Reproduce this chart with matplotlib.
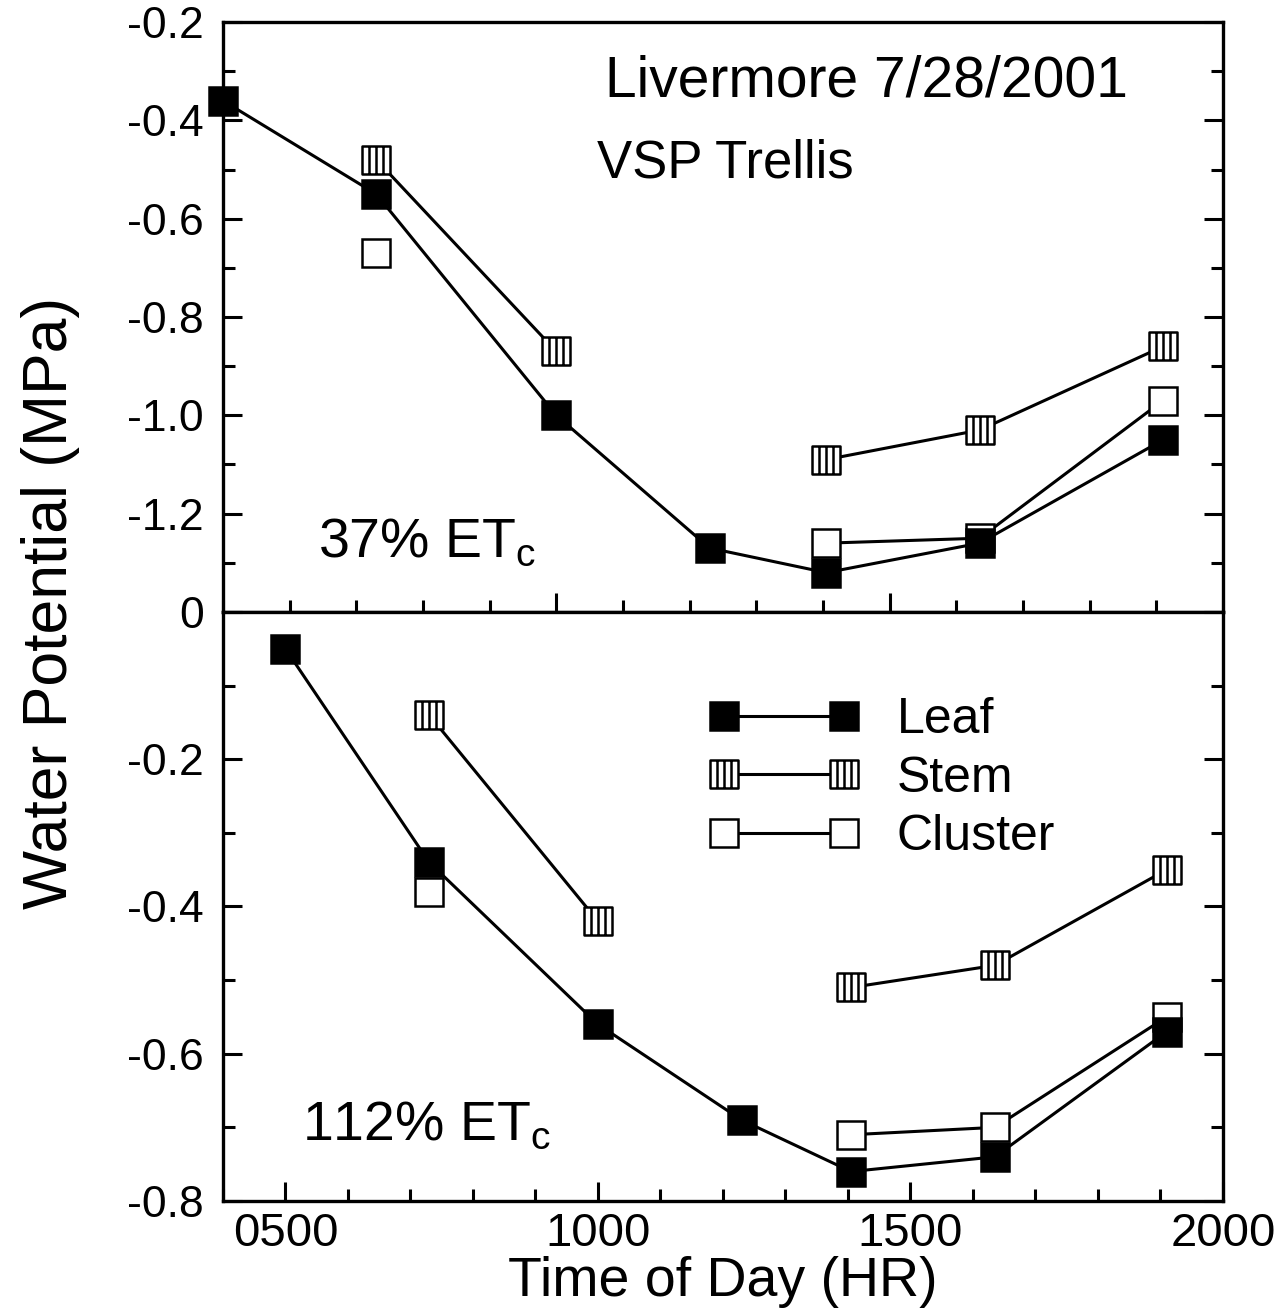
import numpy as np
import matplotlib
matplotlib.use('Agg')
import matplotlib.pyplot as plt
from matplotlib.path import Path
from matplotlib.ticker import MultipleLocator, FixedLocator, FixedFormatter

plt.rcParams['font.family'] = ['Liberation Sans', 'DejaVu Sans']
plt.rcParams['mathtext.fontset'] = 'custom'
plt.rcParams['mathtext.rm'] = 'Liberation Sans'

nan = np.nan

# sampling times (hhmm), the same in both panels
hours = [500, 730, 1000, 1230, 1405, 1635, 1910]

# 37% ETc (top panel)
leaf_37 = [-0.36, -0.55, -1.00, -1.27, -1.32, -1.26, -1.05]
stem_37 = [nan, -0.48, -0.87, nan, -1.09, -1.03, -0.86]
cluster_37 = [nan, -0.67, nan, nan, -1.26, -1.25, -0.97]

# 112% ETc (bottom panel)
leaf_112 = [-0.05, -0.34, -0.56, -0.69, -0.76, -0.74, -0.57]
stem_112 = [nan, -0.14, -0.42, nan, -0.51, -0.48, -0.35]
cluster_112 = [nan, -0.38, nan, nan, -0.71, -0.70, -0.55]

top_yticks = [-0.2, -0.4, -0.6, -0.8, -1.0, -1.2, -1.4]
top_ylabels = ['-0.2', '-0.4', '-0.6', '-0.8', '-1.0', '-1.2', '']
bot_yticks = [0, -0.2, -0.4, -0.6, -0.8]
bot_ylabels = ['0', '-0.2', '-0.4', '-0.6', '-0.8']
xticks = [500, 1000, 1500, 2000]
xlabels = ['0500', '1000', '1500', '2000']

# square with vertical hatching for the stem marker
verts = [(-1, -1), (1, -1), (1, 1), (-1, 1), (-1, -1),
         (-0.5, -1), (-0.5, 1), (0, -1), (0, 1), (0.5, -1), (0.5, 1)]
codes = [Path.MOVETO, Path.LINETO, Path.LINETO, Path.LINETO, Path.CLOSEPOLY,
         Path.MOVETO, Path.LINETO, Path.MOVETO, Path.LINETO, Path.MOVETO, Path.LINETO]
stem_marker = Path(verts, codes)

fig = plt.figure(figsize=(12.88, 13.11), dpi=100)
ax1 = fig.add_axes([0.1731, 0.5332, 0.7764, 0.4500])
ax2 = fig.add_axes([0.1731, 0.0839, 0.7764, 0.4493])

style = dict(color='k', lw=2.2, ms=20, mec='k', mew=1.8, clip_on=False)


def draw(ax, leaf, stem, cluster):
    hc, = ax.plot(hours, cluster, marker='s', mfc='white', label='Cluster', **style)
    hs, = ax.plot(hours, stem, marker=stem_marker, mfc='white', label='Stem', **style)
    hl, = ax.plot(hours, leaf, marker='s', mfc='black', label='Leaf', **style)
    return [hl, hs, hc]


draw(ax1, leaf_37, stem_37, cluster_37)
handles = draw(ax2, leaf_112, stem_112, cluster_112)

for ax in (ax1, ax2):
    for s in ax.spines.values():
        s.set_linewidth(2.4)
    ax.tick_params(which='both', direction='in', width=2.2, right=True, top=False)
    ax.tick_params(axis='y', labelsize=32, pad=14)
    ax.tick_params(axis='x', labelsize=34, pad=8)
    ax.tick_params(which='major', length=14)
    ax.tick_params(which='minor', length=8.5)
    ax.xaxis.set_minor_locator(MultipleLocator(100))
    ax.yaxis.set_minor_locator(MultipleLocator(0.1))

# top panel
ax1.set_xlim(500, 2000)
ax1.set_ylim(-1.4, -0.2)
ax1.xaxis.set_major_locator(FixedLocator([1000, 1500]))
ax1.tick_params(axis='x', labelbottom=False)
ax1.yaxis.set_major_locator(FixedLocator(top_yticks))
ax1.yaxis.set_major_formatter(FixedFormatter(top_ylabels))

# bottom panel
ax2.set_xlim(400, 2000)
ax2.set_ylim(-0.8, 0)
ax2.xaxis.set_major_locator(FixedLocator(xticks))
ax2.xaxis.set_major_formatter(FixedFormatter(xlabels))
ax2.yaxis.set_major_locator(FixedLocator(bot_yticks))
ax2.yaxis.set_major_formatter(FixedFormatter(bot_ylabels))

ax1.text(0.382, 0.873, 'Livermore 7/28/2001', transform=ax1.transAxes, fontsize=41)
ax1.text(0.374, 0.736, 'VSP Trellis', transform=ax1.transAxes, fontsize=38)
ax1.text(0.095, 0.093, r'37% ET$_\mathrm{c}$', transform=ax1.transAxes, fontsize=40)
ax2.text(0.079, 0.104, r'112% ET$_\mathrm{c}$', transform=ax2.transAxes, fontsize=40)

ax2.legend(handles=handles, loc='upper left', bbox_to_anchor=(0.486, 0.855),
           frameon=False, fontsize=36, numpoints=2, handlelength=3.0,
           handletextpad=0.75, labelspacing=0.25, borderpad=0, borderaxespad=0)

ax2.set_xlabel('Time of Day (HR)', fontsize=40, labelpad=0)
fig.text(0.039, 0.54, 'Water Potential (MPa)', rotation=90, fontsize=45,
         ha='center', va='center')

plt.savefig('out.png', dpi=100)
